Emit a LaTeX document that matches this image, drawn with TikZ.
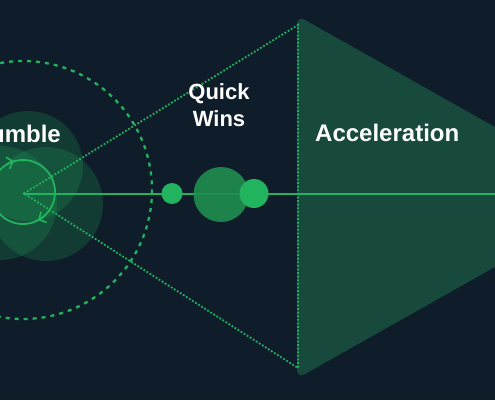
\documentclass[tikz,border=0pt]{standalone}
\usepackage{fontspec}
\setmainfont{Liberation Sans}
\usetikzlibrary{arrows.meta}
\definecolor{bg}{HTML}{0F1D2A}
\definecolor{grn}{HTML}{22B35E}
\definecolor{dgrn}{HTML}{1F8C4E}
\definecolor{accel}{HTML}{174A3C}
\begin{document}
\begin{tikzpicture}[x=1pt,y=-1pt,
  lbl/.style={text=white,font=\bfseries\fontsize{24}{27}\selectfont,inner sep=0pt},
  dotline/.style={grn,line width=1.8pt,dash pattern=on 1.8pt off 1.8pt},
  dashcirc/.style={grn,line width=2.3pt,dash pattern=on 4pt off 5pt},
  mainline/.style={grn,line width=2pt},
  blob/.style={fill=grn,fill opacity=0.2},
  dot/.style={circle,inner sep=0pt,draw=none}]
\useasboundingbox (0,0) rectangle (495,400);
\fill[bg] (0,0) rectangle (495,400);
\clip (0,0) rectangle (495,400);
% acceleration wedge
\fill[accel,rounded corners=9pt] (297,15.5) -- (619,197) -- (297,378.5) -- cycle;
% rumble blobs
\fill[blob] (28,166) circle[radius=55];
\fill[blob] (46,204) circle[radius=57];
\fill[blob] (0,203) circle[radius=57];
% coordinates
\coordinate (c) at (24,193.5);
\coordinate (tl) at (298,25);
\coordinate (bl) at (298,368);
\coordinate (re) at (495,193.5);
% dashed circle
\draw[dashcirc] (23,190) circle[radius=129];
% dotted guide lines
\draw[dotline] (c) -- (tl) -- (bl) -- (c);
% main line
\draw[mainline] (c) -- (re);
\fill[grn] (c) circle[radius=1.5];
% cycle circle
\draw[grn,line width=1.8pt] (23,192) circle[radius=32];
\draw[grn,line width=1.8pt,-{Straight Barb[length=5.5pt,width=12pt,line width=1.7pt]}] (23,192) ++(240:32) arc[start angle=240,end angle=254,radius=32];
\draw[grn,line width=1.8pt,-{Straight Barb[length=5.5pt,width=12pt,line width=1.7pt]}] (23,192) ++(48:32) arc[start angle=48,end angle=62,radius=32];
% quick wins dots
\node[dot,fill=grn,minimum size=21pt] (q1) at (172,193.5) {};
\node[dot,fill=dgrn,fill opacity=0.92,minimum size=55pt] (q2) at (221,194.5) {};
\node[dot,fill=grn,minimum size=29pt] (q3) at (254,193.5) {};
% labels
\node[lbl,anchor=base east] (rumble) at (61,142) {Rumble};
\node[lbl,anchor=base,align=center,font=\bfseries\fontsize{22}{27}\selectfont] (quick) at (219,126) {Quick\\Wins};
\node[lbl,anchor=base west] (acc) at (315,141) {Acceleration};
\end{tikzpicture}
\end{document}
